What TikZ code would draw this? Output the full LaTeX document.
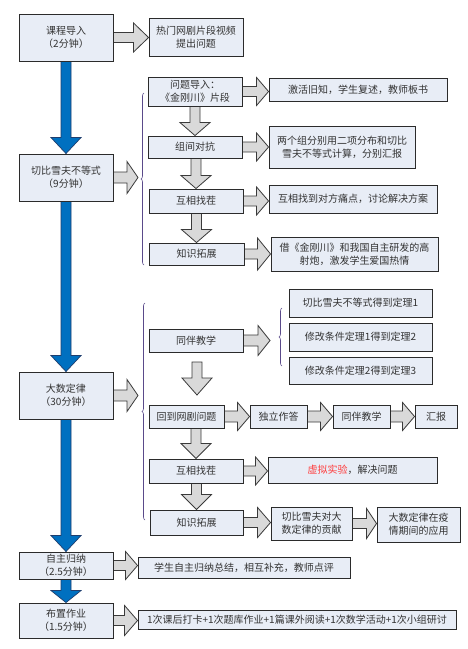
\documentclass[tikz,border=0pt]{standalone}
\usepackage{fontspec}
\setmainfont{Noto Sans CJK SC}
\usetikzlibrary{calc,decorations.pathreplacing}
\definecolor{boxfill}{HTML}{E8EDF6}
\definecolor{boxline}{HTML}{2B2B2B}
\definecolor{arrfill}{HTML}{D9D9D9}
\definecolor{arrline}{HTML}{3A3A3A}
\definecolor{bluefill}{HTML}{0070C0}
\definecolor{blueline}{HTML}{1F3E6E}
\definecolor{bracecol}{HTML}{5A4A8A}
\definecolor{txt}{HTML}{333333}
\definecolor{redtxt}{HTML}{FF3B3B}
\pgfdeclarelayer{paper}
\pgfdeclarelayer{bg}
\pgfsetlayers{paper,bg,main}
\tikzset{
  box/.style={draw=boxline, fill=boxfill, line width=0.9pt, inner sep=0pt, align=center, text=txt, font=\fontsize{10}{13}\selectfont},
  garrow/.style={draw=arrline, fill=arrfill, line width=0.8pt, line join=miter},
  barrow/.style={draw=blueline, fill=bluefill, line width=0.7pt, line join=miter},
  bracestyle/.style={draw=bracecol, line width=0.6pt, decorate, decoration={brace, amplitude=3pt}}
}
% box from corners
\newcommand\BX[6]{\node[box, minimum width={(#4-#2)*1pt}, minimum height={(#5-#3)*1pt}] (#1) at ({(#2+#4)/2},{(#3+#5)/2}) {#6};}
% horizontal block arrow: start, end, shaft half, head half, head length
\newcommand\GArrH[5]{\draw[garrow] let \p1=#1, \p2=#2 in (\x1,\y1+#3) -- (\x2-#5,\y1+#3) -- (\x2-#5,\y1+#4) -- (\x2,\y1) -- (\x2-#5,\y1-#4) -- (\x2-#5,\y1-#3) -- (\x1,\y1-#3) -- cycle;}
% vertical block arrow (down): start, end, shaft half, head half, head length, style
\newcommand\GArrV[6]{\draw[#6] let \p1=#1, \p2=#2 in (\x2-#3,\y1) -- (\x2-#3,\y2+#5) -- (\x2-#4,\y2+#5) -- (\x2,\y2) -- (\x2+#4,\y2+#5) -- (\x2+#3,\y2+#5) -- (\x2+#3,\y1) -- cycle;}
\begin{document}
\begin{tikzpicture}[x=1pt,y=-1pt]
\begin{pgfonlayer}{paper}
\fill[white] (0,0) rectangle (467,649);
\end{pgfonlayer}
\useasboundingbox (0,0) rectangle (467,649);
% left column
\BX{A}{19}{14}{113}{61}{课程导入\\（2分钟）}
\BX{A2}{149}{18}{243}{56}{热门网剧片段视频\\提出问题}
\BX{B}{19}{154}{113}{201}{切比雪夫不等式\\（9分钟）}
\BX{C}{19}{372}{113}{419}{大数定律\\（30分钟）}
\BX{D}{19}{552}{113}{579}{自主归纳\\（2.5分钟）}
\BX{E}{19}{603}{113}{638}{布置作业\\（1.5分钟）}
% group B
\BX{B1}{148}{77}{242}{106}{问题导入：\\《金刚川》片段}
\BX{B1r}{269}{78}{447}{101}{激活旧知，学生复述，教师板书}
\BX{B2}{148}{136}{242}{158}{组间对抗}
\BX{B2r}{269}{126}{415}{168}{两个组分别用二项分布和切比\\雪夫不等式计算，分别汇报}
\BX{B3}{149}{189}{243}{213}{互相找茬}
\BX{B3r}{269}{185}{437}{213}{互相找到对方痛点，讨论解决方案}
\BX{B4}{149}{243}{244}{265}{知识拓展}
\BX{B4r}{271}{237}{438}{271}{借《金刚川》和我国自主研发的高\\射炮，激发学生爱国热情}
% group C
\BX{C1}{149}{329}{243}{352}{同伴教学}
\BX{C1a}{289}{289}{432}{317}{切比雪夫不等式得到定理1}
\BX{C1b}{289}{323}{432}{351}{修改条件定理1得到定理2}
\BX{C1c}{289}{357}{432}{384}{修改条件定理2得到定理3}
\BX{C2}{149}{405}{224}{428}{回到网剧问题}
\BX{C2a}{250}{405}{307}{428}{独立作答}
\BX{C2b}{333}{405}{390}{428}{同伴教学}
\BX{C2c}{415}{405}{457}{428}{汇报}
\BX{C3}{149}{459}{243}{483}{互相找茬}
\BX{C3r}{268}{457}{437}{483}{{\color{redtxt}虚拟实验}，解决问题}
\BX{C4}{150}{510}{243}{535}{知识拓展}
\BX{C4a}{271}{507}{352}{540}{切比雪夫对大\\数定律的贡献}
\BX{C4b}{377}{507}{460}{542}{大数定律在疫\\情期间的应用}
% group D, E
\BX{Dr}{138}{557}{350}{578}{学生自主归纳总结，相互补充，教师点评}
\BX{Er}{138}{610}{456}{629}{1次课后打卡+1次题库作业+1篇课外阅读+1次数学活动+1次小组研讨}
% brace coordinates
\coordinate (br1top) at (144,93);
\coordinate (br1bot) at (144,265);
\coordinate (br1tip) at (138,176);
\coordinate (br2top) at (145,303);
\coordinate (br2bot) at (145,520);
\coordinate (br2tip) at (138,396);
\coordinate (br3top) at (282,308);
\coordinate (br3bot) at (282,366);
\coordinate (br3tip) at (270,340);
\coordinate (c1d1) at (197,362);
\coordinate (c1d2) at (197,395);
\draw[bracestyle] (br1bot) -- (br1top);
\draw[bracestyle] (br2bot) -- (br2top);
\draw[bracestyle] (br3bot) -- (br3top);
\begin{pgfonlayer}{bg}
% blue main flow
\GArrV{(A.south)}{(B.north)}{5pt}{15pt}{16pt}{barrow}
\GArrV{(B.south)}{(C.north)}{5pt}{15pt}{16pt}{barrow}
\GArrV{(C.south)}{(D.north)}{5pt}{15pt}{16pt}{barrow}
\GArrV{(D.south)}{(E.north)}{5pt}{15pt}{12pt}{barrow}
% gray horizontal arrows
\GArrH{(A.east)}{(A2.west)}{5pt}{14.5pt}{15pt}
\GArrH{(B.east)}{(br1tip)}{5.5pt}{16pt}{11pt}
\GArrH{(C.east)}{(br2tip)}{5.5pt}{16pt}{11pt}
\GArrH{(B1.east)}{(B1r.west)}{5pt}{14pt}{12pt}
\GArrH{(B2.east)}{(B2r.west)}{5pt}{14pt}{12pt}
\GArrH{(B3.east)}{(B3r.west)}{5pt}{14pt}{12pt}
\GArrH{(B4.east)}{(B4r.west)}{5pt}{16pt}{13pt}
\GArrH{(C1.east)}{(br3tip)}{5.5pt}{15pt}{12pt}
\GArrH{(C2.east)}{(C2a.west)}{5.5pt}{14pt}{12pt}
\GArrH{(C2a.east)}{(C2b.west)}{5.5pt}{14pt}{12pt}
\GArrH{(C2b.east)}{(C2c.west)}{5.5pt}{14pt}{12pt}
\GArrH{(C3.east)}{(C3r.west)}{5pt}{14pt}{12pt}
\GArrH{(C4.east)}{(C4a.west)}{5pt}{15pt}{13pt}
\GArrH{(C4a.east)}{(C4b.west)}{5pt}{15pt}{10pt}
\GArrH{(D.east)}{(Dr.west)}{5pt}{14pt}{12pt}
\GArrH{(E.east)}{(Er.west)}{5pt}{15pt}{13pt}
% gray down arrows
\GArrV{(B1.south)}{(B2.north)}{5pt}{15pt}{13pt}{garrow}
\GArrV{(B2.south)}{(B3.north)}{5pt}{15pt}{13pt}{garrow}
\GArrV{(B3.south)}{(B4.north)}{5pt}{15pt}{13pt}{garrow}
\GArrV{(c1d1)}{(c1d2)}{5pt}{15pt}{17pt}{garrow}
\GArrV{(C2.south)}{(C3.north)}{5pt}{15pt}{15pt}{garrow}
\GArrV{(C3.south)}{(C4.north)}{5pt}{15pt}{15pt}{garrow}
\end{pgfonlayer}
\end{tikzpicture}
\end{document}
